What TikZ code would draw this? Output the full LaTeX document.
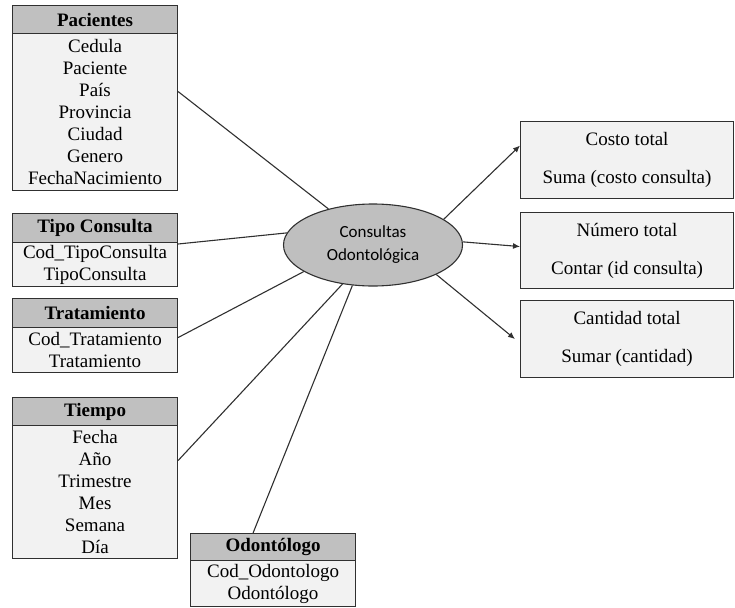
\documentclass[tikz,border=0pt]{standalone}
\usepackage{fontspec}
\setmainfont{Liberation Serif}
\newfontfamily\elfont{Carlito}
\usetikzlibrary{arrows.meta,shapes.geometric}
\definecolor{hdrgray}{HTML}{C0C0C0}
\definecolor{bodygray}{HTML}{F2F2F2}
\definecolor{ellgray}{HTML}{BFBFBF}
\definecolor{edgec}{HTML}{303030}
\begin{document}
\begin{tikzpicture}[x=1pt,y=-1pt,
  box/.style={draw=edgec, line width=1.1pt, anchor=north west, inner sep=0pt, minimum width=165pt},
  hdr/.style={box, fill=hdrgray, font=\fontsize{19}{22}\selectfont\bfseries},
  bdy/.style={box, fill=bodygray, align=center, font=\fontsize{19}{22}\selectfont},
  meas/.style={draw=edgec, line width=1.1pt, fill=bodygray, anchor=north west, inner sep=0pt,
    minimum width=213pt, align=center, font=\fontsize{19}{38}\selectfont},
  conn/.style={draw=edgec, line width=1.1pt},
  arr/.style={conn, -{Latex[length=7pt,width=6pt]}}]
\useasboundingbox (0,0) rectangle (735,607);
% Pacientes
\node[hdr, minimum height=28pt] (pach) at (12,5) {Pacientes};
\node[bdy, minimum height=157pt] (pacb) at (12,33) {Cedula\\Paciente\\País\\Provincia\\Ciudad\\Genero\\FechaNacimiento};
% Tipo Consulta
\node[hdr, minimum height=29pt] (tiph) at (12,213) {Tipo Consulta};
\node[bdy, minimum height=44pt] (tipb) at (12,242) {Cod\_TipoConsulta\\TipoConsulta};
% Tratamiento
\node[hdr, minimum height=29pt] (trah) at (12,298) {Tratamiento};
\node[bdy, minimum height=45pt] (trab) at (12,327) {Cod\_Tratamiento\\Tratamiento};
% Tiempo
\node[hdr, minimum height=28pt] (tieh) at (12,397) {Tiempo};
\node[bdy, minimum height=133pt] (tieb) at (12,425) {Fecha\\Año\\Trimestre\\Mes\\Semana\\Día};
% Odontologo
\node[hdr, minimum height=27pt] (odoh) at (190,533) {Odontólogo};
\node[bdy, minimum height=46pt] (odob) at (190,560) {Cod\_Odontologo\\Odontólogo};
% centre
\node[ellipse, draw=edgec, line width=1.1pt, fill=ellgray, minimum width=179pt, minimum height=82pt,
  inner sep=0pt, align=center, font=\elfont\fontsize{17}{23}\selectfont] (ell) at (373,245) {Consultas\\Odontológica};
% measures
\node[meas, minimum height=77pt] (r1) at (520,121) {Costo total\\Suma (costo consulta)};
\node[meas, minimum height=76pt] (r2) at (520,212) {Número total\\Contar (id consulta)};
\node[meas, minimum height=77pt] (r3) at (520,300) {Cantidad total\\Sumar (cantidad)};
% connectors
\draw[conn] ([yshift=20.5pt]pacb.east) -- (ell.141);
\draw[conn] ([yshift=-2pt]tipb.north east) -- (ell.172);
\draw[conn] ([yshift=12.5pt]trab.east) -- (ell.201);
\draw[conn] ([yshift=31.5pt]tieb.east) -- (ell.232);
\draw[conn] ([xshift=-20pt]odoh.north) -- (ell.243);
\draw[arr] (ell.20) -- ([yshift=14.5pt]r1.west);
\draw[arr] (ell.2) -- ([yshift=4pt]r2.west);
\draw[arr] (ell.335) -- ([xshift=-5pt]r3.west);
\end{tikzpicture}
\end{document}
